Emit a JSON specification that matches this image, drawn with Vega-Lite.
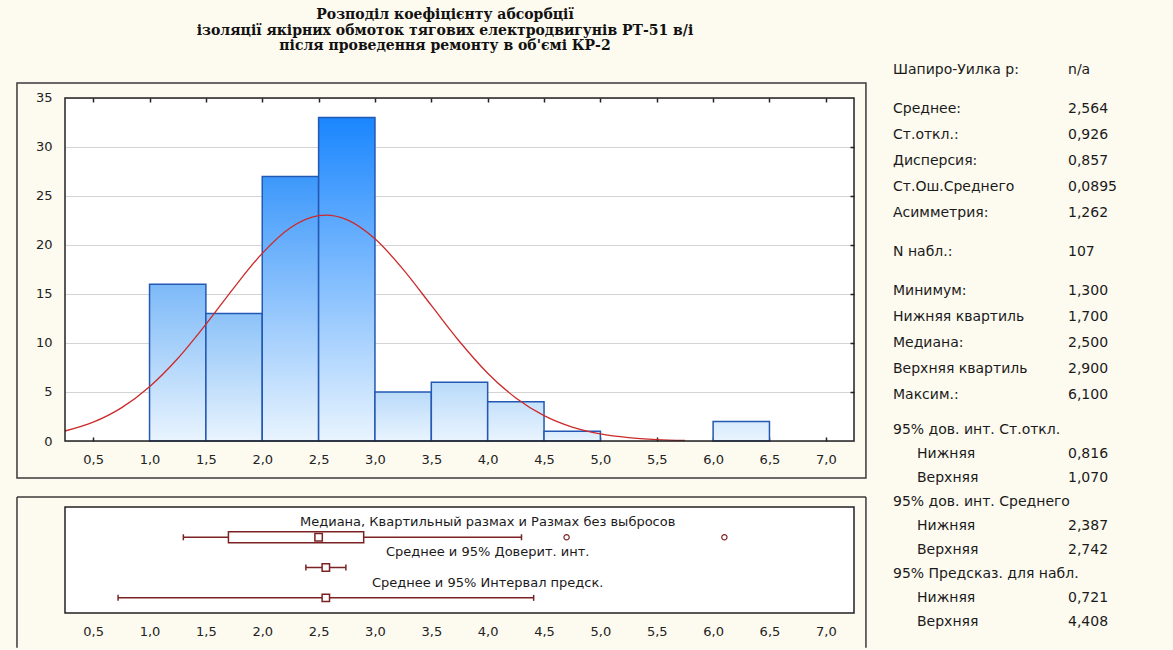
{
  "$schema": "https://vega.github.io/schema/vega-lite/v6.json",
  "background": "#fdfaf0",
  "padding": {"left": 16, "top": 8, "right": 5, "bottom": 1},
  "config": {
    "font": "DejaVu Sans",
    "view": {"stroke": null},
    "axis": {"labelFont": "DejaVu Sans", "labelFontSize": 13, "labelColor": "#222"}
  },
  "title": {
    "text": ["Розподіл коефіцієнту абсорбції", "ізоляції якірних обмоток тягових електродвигунів РТ-51 в/і", "після проведення ремонту в об'ємі КР-2"],
    "font": "DejaVu Serif", "fontWeight": "bold", "fontSize": 14, "lineHeight": 15.5,
    "color": "#111", "anchor": "start", "frame": "group", "align": "center", "dx": 380, "offset": 10
  },
  "datasets": {
    "bins": [
      {"start": 1.0, "end": 1.5, "count": 16},
      {"start": 1.5, "end": 2.0, "count": 13},
      {"start": 2.0, "end": 2.5, "count": 27},
      {"start": 2.5, "end": 3.0, "count": 33},
      {"start": 3.0, "end": 3.5, "count": 5},
      {"start": 3.5, "end": 4.0, "count": 6},
      {"start": 4.0, "end": 4.5, "count": 4},
      {"start": 4.5, "end": 5.0, "count": 1},
      {"start": 6.0, "end": 6.5, "count": 2}
    ],
    "curve": [
      {"x": 0.25, "f": 1.02}, {"x": 0.5, "f": 1.92}, {"x": 0.75, "f": 3.38}, {"x": 1.0, "f": 5.54},
      {"x": 1.25, "f": 8.42}, {"x": 1.5, "f": 11.91}, {"x": 1.75, "f": 15.66}, {"x": 2.0, "f": 19.15},
      {"x": 2.25, "f": 21.76}, {"x": 2.5, "f": 23.0}, {"x": 2.564, "f": 23.05}, {"x": 2.75, "f": 22.59},
      {"x": 3.0, "f": 20.63}, {"x": 3.25, "f": 17.52}, {"x": 3.5, "f": 13.83}, {"x": 3.75, "f": 10.15},
      {"x": 4.0, "f": 6.92}, {"x": 4.25, "f": 4.39}, {"x": 4.5, "f": 2.59}, {"x": 4.75, "f": 1.42},
      {"x": 5.0, "f": 0.72}, {"x": 5.25, "f": 0.34}, {"x": 5.5, "f": 0.15}, {"x": 5.75, "f": 0.06}
    ],
    "intervals": [
      {"row": "R1", "lo": 1.3, "hi": 4.3, "mid": 2.5},
      {"row": "R2", "lo": 2.387, "hi": 2.742, "mid": 2.564},
      {"row": "R3", "lo": 0.721, "hi": 4.408, "mid": 2.564}
    ],
    "box": [{"row": "R1", "q1": 1.7, "q3": 2.9}],
    "outliers": [{"row": "R1", "v": 4.7}, {"row": "R1", "v": 6.1}],
    "boxlabels": [
      {"row": "L1", "text": "Медиана, Квартильный размах и Размах без выбросов"},
      {"row": "L2", "text": "Среднее и 95% Доверит. инт."},
      {"row": "L3", "text": "Среднее и 95% Интервал предск."}
    ],
    "statsUpper": [
      {"key": "shap", "label": "Шапиро-Уилка р:", "value": "n/a"},
      {"key": "mean", "label": "Среднее:", "value": "2,564"},
      {"key": "sd", "label": "Ст.откл.:", "value": "0,926"},
      {"key": "var", "label": "Дисперсия:", "value": "0,857"},
      {"key": "se", "label": "Ст.Ош.Среднего", "value": "0,0895"},
      {"key": "skew", "label": "Асимметрия:", "value": "1,262"},
      {"key": "n", "label": "N набл.:", "value": "107"},
      {"key": "min", "label": "Минимум:", "value": "1,300"},
      {"key": "q1", "label": "Нижняя квартиль", "value": "1,700"},
      {"key": "med", "label": "Медиана:", "value": "2,500"},
      {"key": "q3", "label": "Верхняя квартиль", "value": "2,900"},
      {"key": "max", "label": "Максим.:", "value": "6,100"}
    ],
    "statsLower": [
      {"key": "ci_sd", "label": "95% дов. инт. Ст.откл.", "value": ""},
      {"key": "sd_lo", "label": "Нижняя", "value": "0,816"},
      {"key": "sd_hi", "label": "Верхняя", "value": "1,070"},
      {"key": "ci_m", "label": "95% дов. инт. Среднего", "value": ""},
      {"key": "m_lo", "label": "Нижняя", "value": "2,387"},
      {"key": "m_hi", "label": "Верхняя", "value": "2,742"},
      {"key": "pi", "label": "95% Предсказ. для набл.", "value": ""},
      {"key": "pi_lo", "label": "Нижняя", "value": "0,721"},
      {"key": "pi_hi", "label": "Верхняя", "value": "4,408"}
    ]
  },
  "hconcat": [
    {
      "vconcat": [
        {
          "width": 789, "height": 371,
          "view": {"fill": "white", "stroke": null},
          "layer": [
            {
              "data": {"name": "bins"},
              "mark": {"type": "rect", "stroke": "#2358b3", "strokeWidth": 1.5},
              "encoding": {
                "x": {"field": "start", "type": "quantitative",
                  "scale": {"domain": [0.25, 7.25], "nice": false, "zero": false},
                  "axis": {"orient": "bottom", "values": [0.5, 1.0, 1.5, 2.0, 2.5, 3.0, 3.5, 4.0, 4.5, 5.0, 5.5, 6.0, 6.5, 7.0],
                    "labelExpr": "replace(format(datum.value, '.1f'), '.', ',')",
                    "grid": false, "domain": false, "ticks": true, "tickSize": -4, "tickColor": "#222", "tickWidth": 1.5,
                    "labelPadding": 16, "title": null}},
                "x2": {"field": "end"},
                "y": {"field": "count", "type": "quantitative",
                  "scale": {"domain": [0, 37.857], "nice": false},
                  "axis": {"orient": "left", "values": [0, 5, 10, 15, 20, 25, 30, 35], "grid": true, "gridColor": "#d4d4d4", "gridWidth": 1.2,
                    "domain": false, "ticks": false, "labelPadding": 13, "title": null}},
                "y2": {"datum": 0},
                "fill": {
                  "condition": [
                    {"test": "datum.count >= 30", "value": {"gradient": "linear", "x1": 0, "y1": 0, "x2": 0, "y2": 1, "stops": [{"offset": 0, "color": "#1a86fe"}, {"offset": 1, "color": "#e9f4fe"}]}},
                    {"test": "datum.count >= 20", "value": {"gradient": "linear", "x1": 0, "y1": 0, "x2": 0, "y2": 1, "stops": [{"offset": 0, "color": "#3d98fb"}, {"offset": 1, "color": "#e9f4fe"}]}},
                    {"test": "datum.count >= 15", "value": {"gradient": "linear", "x1": 0, "y1": 0, "x2": 0, "y2": 1, "stops": [{"offset": 0, "color": "#7cb9f8"}, {"offset": 1, "color": "#e9f4fe"}]}},
                    {"test": "datum.count >= 10", "value": {"gradient": "linear", "x1": 0, "y1": 0, "x2": 0, "y2": 1, "stops": [{"offset": 0, "color": "#8cc2f8"}, {"offset": 1, "color": "#e9f4fe"}]}},
                    {"test": "datum.count >= 5", "value": {"gradient": "linear", "x1": 0, "y1": 0, "x2": 0, "y2": 1, "stops": [{"offset": 0, "color": "#b9dafa"}, {"offset": 1, "color": "#e9f4fe"}]}},
                    {"test": "datum.count >= 3", "value": {"gradient": "linear", "x1": 0, "y1": 0, "x2": 0, "y2": 1, "stops": [{"offset": 0, "color": "#c5e1fb"}, {"offset": 1, "color": "#e9f4fe"}]}}
                  ],
                  "value": {"gradient": "linear", "x1": 0, "y1": 0, "x2": 0, "y2": 1, "stops": [{"offset": 0, "color": "#d6eafd"}, {"offset": 1, "color": "#e9f4fe"}]}
                }
              }
            },
            {
              "data": {"values": [{}]},
              "mark": {"type": "rect", "fill": "#fdfaf0", "stroke": null},
              "encoding": {
                "x": {"datum": 0.2, "axis": null}, "x2": {"datum": 7.3},
                "y": {"datum": 35, "axis": null}, "y2": {"datum": 37.857}
              }
            },
            {
              "data": {"name": "curve"},
              "mark": {"type": "line", "color": "#cc2a2a", "strokeWidth": 1.3, "interpolate": "monotone"},
              "encoding": {
                "x": {"field": "x", "type": "quantitative", "axis": null},
                "y": {"field": "f", "type": "quantitative", "axis": null}
              }
            },
            {
              "data": {"values": [{}]},
              "mark": {"type": "rect", "filled": false, "stroke": "#222", "strokeWidth": 1.5},
              "encoding": {
                "x": {"datum": 0.25, "axis": {"orient": "top", "values": [0.5, 1.0, 1.5, 2.0, 2.5, 3.0, 3.5, 4.0, 4.5, 5.0, 5.5, 6.0, 6.5, 7.0],
                  "labels": false, "domain": false, "grid": false, "tickSize": -4, "tickWidth": 1.5, "tickColor": "#222", "offset": -28, "title": null}},
                "x2": {"datum": 7.25},
                "y": {"datum": 0, "axis": {"orient": "right", "values": [5, 10, 15, 20, 25, 30],
                  "labels": false, "domain": false, "grid": false, "tickSize": -4, "tickWidth": 1.5, "tickColor": "#222", "title": null}},
                "y2": {"datum": 35}
              }
            },
            {
              "data": {"values": [{}]},
              "mark": {"type": "rect", "filled": false, "stroke": "#3a3a3a", "strokeWidth": 1.5, "clip": false},
              "encoding": {
                "x": {"datum": -0.176, "axis": null}, "x2": {"datum": 7.356},
                "y": {"datum": -3.776, "axis": null}, "y2": {"datum": 36.53}
              }
            },
            {
              "data": {"values": [{}]},
              "mark": {"type": "rule", "stroke": "#3a3a3a", "strokeWidth": 1.5, "clip": false},
              "encoding": {
                "x": {"datum": -0.176, "axis": null}, "x2": {"datum": 7.356},
                "y": {"datum": -5.714, "axis": null}
              }
            },
            {
              "data": {"values": [{}]},
              "mark": {"type": "rule", "stroke": "#3a3a3a", "strokeWidth": 1.5, "clip": false},
              "encoding": {
                "x": {"datum": -0.176, "axis": null},
                "y": {"datum": -5.714, "axis": null}, "y2": {"datum": -21.1}
              }
            },
            {
              "data": {"values": [{}]},
              "mark": {"type": "rule", "stroke": "#3a3a3a", "strokeWidth": 1.5, "clip": false},
              "encoding": {
                "x": {"datum": 7.356, "axis": null},
                "y": {"datum": -5.714, "axis": null}, "y2": {"datum": -21.1}
              }
            }
          ],
          "resolve": {"axis": {"x": "independent", "y": "independent"}}
        },
        {
          "width": 789, "height": 106,
          "view": {"fill": "white", "stroke": "#222", "strokeWidth": 1.5},
          "layer": [
            {
              "data": {"name": "intervals"},
              "mark": {"type": "rule", "stroke": "#7b2323", "strokeWidth": 1.5},
              "encoding": {
                "x": {"field": "lo", "type": "quantitative",
                  "scale": {"domain": [0.25, 7.25], "nice": false, "zero": false},
                  "axis": {"values": [0.5, 1.0, 1.5, 2.0, 2.5, 3.0, 3.5, 4.0, 4.5, 5.0, 5.5, 6.0, 6.5, 7.0],
                    "labelExpr": "replace(format(datum.value, '.1f'), '.', ',')",
                    "ticks": false, "domain": false, "grid": false, "labelPadding": 12, "title": null}},
                "x2": {"field": "hi"},
                "y": {"field": "row", "type": "nominal", "scale": {"type": "point", "domain": ["L1", "R1", "L2", "R2", "L3", "R3"], "padding": 1}, "axis": null}
              }
            },
            {
              "data": {"name": "intervals"},
              "mark": {"type": "tick", "orient": "vertical", "color": "#7b2323", "size": 6, "thickness": 1.5, "opacity": 1},
              "encoding": {
                "x": {"field": "lo", "type": "quantitative"},
                "y": {"field": "row", "type": "nominal"}
              }
            },
            {
              "data": {"name": "intervals"},
              "mark": {"type": "tick", "orient": "vertical", "color": "#7b2323", "size": 6, "thickness": 1.5, "opacity": 1},
              "encoding": {
                "x": {"field": "hi", "type": "quantitative"},
                "y": {"field": "row", "type": "nominal"}
              }
            },
            {
              "data": {"name": "box"},
              "mark": {"type": "bar", "fill": "white", "stroke": "#7b2323", "strokeWidth": 1.5, "size": 11},
              "encoding": {
                "x": {"field": "q1", "type": "quantitative"},
                "x2": {"field": "q3"},
                "y": {"field": "row", "type": "nominal"}
              }
            },
            {
              "data": {"name": "intervals"},
              "mark": {"type": "point", "shape": "square", "size": 55, "filled": true, "fill": "white", "stroke": "#7b2323", "strokeWidth": 1.5, "opacity": 1},
              "encoding": {
                "x": {"field": "mid", "type": "quantitative"},
                "y": {"field": "row", "type": "nominal"}
              }
            },
            {
              "data": {"name": "outliers"},
              "mark": {"type": "point", "shape": "circle", "size": 28, "filled": true, "fill": "white", "stroke": "#7b2323", "strokeWidth": 1.2, "opacity": 1},
              "encoding": {
                "x": {"field": "v", "type": "quantitative"},
                "y": {"field": "row", "type": "nominal"}
              }
            },
            {
              "data": {"name": "boxlabels"},
              "mark": {"type": "text", "font": "DejaVu Sans", "fontSize": 13, "color": "#1a1a1a", "align": "center", "baseline": "middle"},
              "encoding": {
                "x": {"datum": 4.0},
                "y": {"field": "row", "type": "nominal"},
                "text": {"field": "text"}
              }
            }
          ]
        }
      ],
      "spacing": 66,
      "bounds": "flush"
    },
    {
      "vconcat": [
        {
          "width": 275, "height": 325,
          "view": {"fill": "#fdfaf0", "stroke": null},
          "data": {"name": "statsUpper"},
          "layer": [
            {
              "mark": {"type": "text", "align": "left", "baseline": "middle", "fontSize": 14, "font": "DejaVu Sans", "color": "#1a1a1a"},
              "encoding": {
                "x": {"datum": 0, "scale": {"domain": [0, 1.5714], "nice": false, "zero": false}, "axis": null},
                "y": {"field": "key", "type": "nominal", "axis": null,
                  "scale": {"type": "point", "padding": 0, "domain": ["shap", "g1", "g2", "mean", "g3", "sd", "g4", "var", "g5", "se", "g6", "skew", "g7", "g8", "n", "g9", "g10", "min", "g11", "q1", "g12", "med", "g13", "q3", "g14", "max"]}},
                "text": {"field": "label"}
              }
            },
            {
              "mark": {"type": "text", "align": "left", "baseline": "middle", "fontSize": 14, "font": "DejaVu Sans", "color": "#1a1a1a"},
              "encoding": {
                "x": {"datum": 1},
                "y": {"field": "key", "type": "nominal"},
                "text": {"field": "value"}
              }
            }
          ]
        },
        {
          "width": 275, "height": 192,
          "view": {"fill": "#fdfaf0", "stroke": null},
          "data": {"name": "statsLower"},
          "layer": [
            {
              "transform": [{"filter": "datum.label !== 'Нижняя' && datum.label !== 'Верхняя'"}],
              "mark": {"type": "text", "align": "left", "baseline": "middle", "fontSize": 14, "font": "DejaVu Sans", "color": "#1a1a1a"},
              "encoding": {
                "x": {"datum": 0, "scale": {"domain": [0, 1.5714], "nice": false, "zero": false}, "axis": null},
                "y": {"field": "key", "type": "nominal", "axis": null,
                  "scale": {"type": "point", "padding": 0, "domain": ["ci_sd", "sd_lo", "sd_hi", "ci_m", "m_lo", "m_hi", "pi", "pi_lo", "pi_hi"]}},
                "text": {"field": "label"}
              }
            },
            {
              "transform": [{"filter": "datum.label === 'Нижняя' || datum.label === 'Верхняя'"}],
              "mark": {"type": "text", "align": "left", "baseline": "middle", "fontSize": 14, "font": "DejaVu Sans", "color": "#1a1a1a", "dx": 24},
              "encoding": {
                "x": {"datum": 0},
                "y": {"field": "key", "type": "nominal"},
                "text": {"field": "label"}
              }
            },
            {
              "mark": {"type": "text", "align": "left", "baseline": "middle", "fontSize": 14, "font": "DejaVu Sans", "color": "#1a1a1a"},
              "encoding": {
                "x": {"datum": 1},
                "y": {"field": "key", "type": "nominal"},
                "text": {"field": "value"}
              }
            }
          ]
        }
      ],
      "spacing": 35,
      "bounds": "flush"
    }
  ],
  "spacing": 26,
  "bounds": "full"
}
